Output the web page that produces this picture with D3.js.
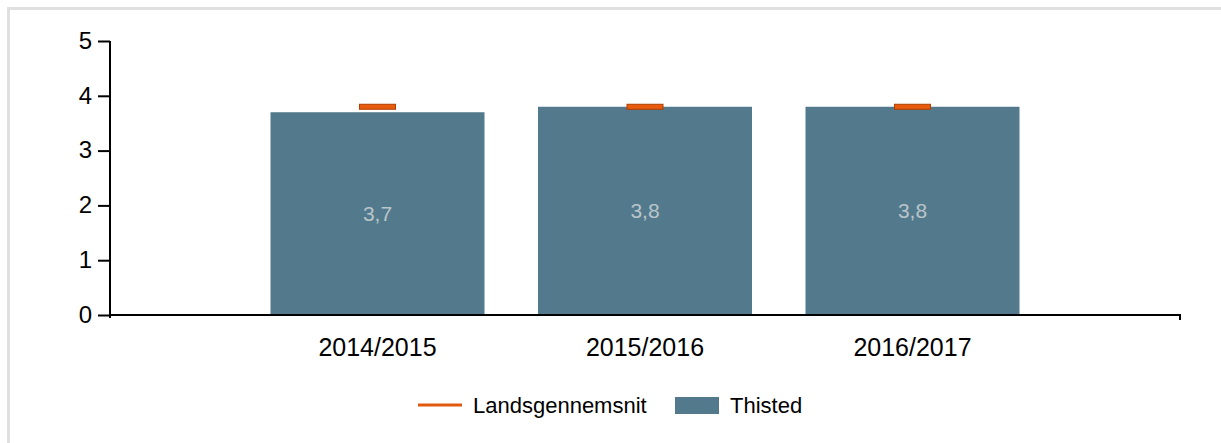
<!DOCTYPE html>
<html><head><meta charset="utf-8">
<script src="https://cdn.jsdelivr.net/npm/d3@7/dist/d3.min.js"></script>
<style>
html,body{margin:0;padding:0;background:#fff;}
svg{display:block;font-family:"Liberation Sans",Arial,sans-serif;}
</style></head>
<body>
<script>
const categories = ["2014/2015","2015/2016","2016/2017"];
const thisted = [3.7, 3.8, 3.8];
const landsgennemsnit = [3.8, 3.8, 3.8];
const yTicks = [0,1,2,3,4,5];
const seriesNames = ["Landsgennemsnit","Thisted"];

const W = 1221, H = 443;
const svg = d3.select("body").append("svg").attr("width",W).attr("height",H);

// frame
svg.append("rect").attr("x",8.5).attr("y",8.5).attr("width",W).attr("height",H)
  .attr("fill","none").attr("stroke","#e0e0e0").attr("stroke-width",3);

const x0 = 110, x1 = 1180, yBase = 315, yTop = 41;
const x = d3.scalePoint().domain(categories).range([x0,x1]).padding(1);
const y = d3.scaleLinear().domain([0,5]).range([yBase,yTop]);
const bw = x.step()*0.8;

// bars
svg.append("g").selectAll("rect").data(thisted).join("rect")
  .attr("x",(d,i)=>x(categories[i])-bw/2)
  .attr("y",d=>y(d))
  .attr("width",bw)
  .attr("height",d=>y(0)-y(d))
  .attr("fill","#537a8c");

// value labels
svg.append("g").selectAll("text").data(thisted).join("text")
  .attr("x",(d,i)=>x(categories[i]))
  .attr("y",d=>(y(d)+y(0))/2+7)
  .attr("text-anchor","middle")
  .attr("font-size",21)
  .attr("fill","#b9c4cb")
  .text(d=>d3.format(".1f")(d).replace(".",","));

// landsgennemsnit markers
svg.append("g").selectAll("rect").data(landsgennemsnit).join("rect")
  .attr("x",(d,i)=>x(categories[i])-18)
  .attr("y",d=>y(d)-2.5)
  .attr("width",36)
  .attr("height",5)
  .attr("fill","#e85a0c")
  .attr("stroke","#b03e00")
  .attr("stroke-width",1);

// y axis
const yAxis = svg.append("g").attr("transform",`translate(${x0},0)`)
  .call(d3.axisLeft(y).tickValues(yTicks).tickSize(12).tickPadding(6).tickFormat(d3.format("d")));
yAxis.select(".domain").attr("stroke","#000").attr("stroke-width",2).attr("d",`M0,${yTop}V${yBase+3}`);
yAxis.selectAll(".tick line").attr("stroke","#000").attr("stroke-width",2);
yAxis.selectAll("text").attr("font-size",24).attr("fill","#000").attr("dy","0.3em").attr("font-family","Liberation Sans, Arial, sans-serif");

// x axis line
svg.append("line").attr("x1",x0).attr("x2",x1+1).attr("y1",yBase).attr("y2",yBase)
  .attr("stroke","#000").attr("stroke-width",2);
svg.append("line").attr("x1",x1).attr("x2",x1).attr("y1",yBase).attr("y2",yBase+5)
  .attr("stroke","#000").attr("stroke-width",2);

svg.append("g").selectAll("text").data(categories).join("text")
  .attr("x",d=>x(d)).attr("y",yBase+41)
  .attr("text-anchor","middle").attr("font-size",25).attr("fill","#000")
  .text(d=>d);

// legend
const lg = svg.append("g");
lg.append("line").attr("x1",418).attr("x2",462).attr("y1",405).attr("y2",405)
  .attr("stroke","#e05a10").attr("stroke-width",3);
lg.append("text").attr("x",473).attr("y",413).attr("font-size",22).attr("fill","#000").text(seriesNames[0]);
lg.append("rect").attr("x",675).attr("y",397).attr("width",44).attr("height",17).attr("fill","#537a8c");
lg.append("text").attr("x",730).attr("y",413).attr("font-size",22).attr("fill","#000").text(seriesNames[1]);
</script>
</body></html>
